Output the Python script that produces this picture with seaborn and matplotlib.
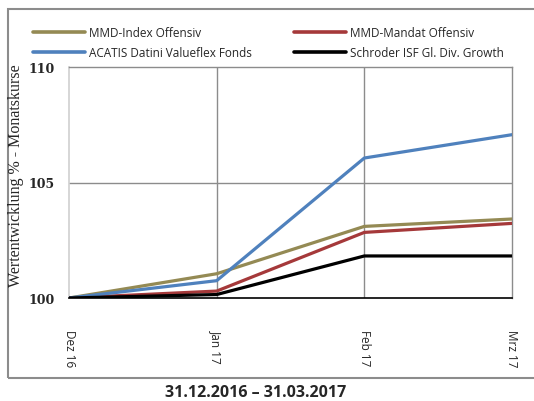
import numpy as np
import pandas as pd
import matplotlib
matplotlib.use("Agg")
import matplotlib.pyplot as plt
import seaborn as sns
from matplotlib.patches import Rectangle
from matplotlib.lines import Line2D

months = ["Dez 16", "Jan 17", "Feb 17", "Mrz 17"]
mmd_index = [100.0, 101.05, 103.1, 103.42]
mmd_mandat = [100.0, 100.3, 102.84, 103.23]
acatis = [100.0, 100.75, 106.06, 107.07]
schroder = [100.0, 100.15, 101.82, 101.82]

names = ["MMD-Index Offensiv", "MMD-Mandat Offensiv",
         "ACATIS Datini Valueflex Fonds", "Schroder ISF Gl. Div. Growth"]
colors = ["#948A54", "#A5393A", "#4F81BD", "#000000"]

rows = []
for name, vals in zip(names, [mmd_index, mmd_mandat, acatis, schroder]):
    for i, v in enumerate(vals):
        rows.append({"pos": i, "month": months[i], "fonds": name, "wert": v})
df = pd.DataFrame(rows)

sns.set_style("white")
fig = plt.figure(figsize=(5.34, 4.02), dpi=100)
ax = fig.add_axes([69/534, 1 - 299/402, (512 - 69)/534, (299 - 68)/402])

sns.lineplot(data=df, x="pos", y="wert", hue="fonds", hue_order=names,
             palette=colors, linewidth=2.3, ax=ax, legend=False, zorder=3)

ax.set_xlim(0, 3)
ax.set_ylim(100, 110)
ax.set_xticks(range(len(months)))
ax.set_xticklabels(months, rotation=270, fontsize=8.5, family="Open Sans",
                   va="top", ha="center")
ax.set_yticks([100, 105, 110])
ax.set_yticklabels(["100", "105", "110"], fontsize=9, fontweight="bold",
                   family="DejaVu Serif")
ax.tick_params(axis="x", length=0, pad=22)
ax.tick_params(axis="y", length=4, color="#d0d0d0", pad=6)
ax.set_xlabel("")
ax.set_ylabel("")
fig.text(16/534, 1 - 176/402, "Wertentwicklung % - Monatskurse",
         family="Liberation Serif", fontsize=11.5, rotation=90,
         ha="center", va="center")

for x in [1, 2]:
    ax.axvline(x, color="#8c8c8c", lw=1, zorder=1)
ax.axhline(105, color="#8c8c8c", lw=1, zorder=1)

for s in ["top", "right"]:
    ax.spines[s].set_color("#8c8c8c")
    ax.spines[s].set_linewidth(1)
ax.spines["left"].set_color("#d0d0d0")
ax.spines["left"].set_linewidth(1.2)
ax.spines["bottom"].set_color("#000000")
ax.spines["bottom"].set_linewidth(1.2)

# legend fills column-wise, so reorder to get the row layout
order = [0, 2, 1, 3]
handles = [Line2D([], [], color=colors[i], lw=2.6) for i in order]
fig.legend(handles, [names[i] for i in order], ncol=2, loc="upper left",
           bbox_to_anchor=(28/534, 1 - 22/402), frameon=False,
           prop={"family": "Open Sans", "size": 8.5}, handlelength=4.4,
           handletextpad=0.35, columnspacing=3.6, labelspacing=0.65,
           borderaxespad=0)

fig.text(256/534, 1 - 393/402, "31.12.2016 – 31.03.2017", ha="center",
         va="center", fontsize=11.5, fontweight="bold", family="Open Sans")

fig.patches.append(Rectangle((8/534, 1 - 379/402), 1.0, (379 - 10)/402,
                             transform=fig.transFigure, fill=False,
                             edgecolor="#8c8c8c", lw=1.5))

fig.savefig("out.png", dpi=100)
